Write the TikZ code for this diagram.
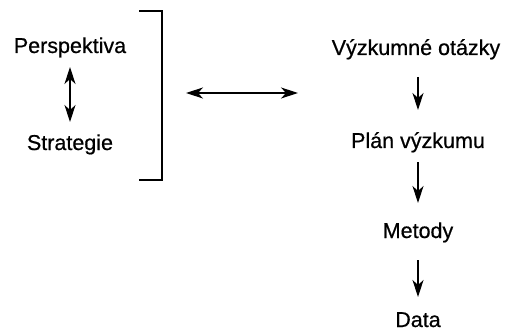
\documentclass[tikz,border=0pt]{standalone}
\usepackage{fontspec}
\setmainfont{Liberation Sans}
\newfontfamily\medsans{Liberation Sans}[FakeBold=0.6]
\usetikzlibrary{arrows.meta}
\begin{document}
\begin{tikzpicture}[x=1pt,y=-1pt,
  lbl/.style={inner sep=0pt, anchor=base, font=\medsans\fontsize{21.5}{24}\selectfont},
  tip/.tip={Stealth[length=17pt,width=11pt,inset=5pt]},
  arr/.style={line width=1.1pt, -tip},
  darr/.style={line width=1.1pt, tip-tip},
  brk/.style={line width=1.2pt}]
\useasboundingbox (0,0) rectangle (513,331);
% left column
\node[lbl] (persp) at (70,53) {Perspektiva};
\node[lbl] (strat) at (70,150) {Strategie};
\draw[darr, shorten <=14pt, shorten >=28pt] (persp.base) -- (strat.base);
% bracket
\coordinate (bt1) at (139,11);
\coordinate (bt2) at (162,11);
\coordinate (bb2) at (162,180);
\coordinate (bb1) at (139,180);
\draw[brk] (bt1) -- (bt2) -- (bb2) -- (bb1);
% horizontal double arrow
\coordinate (hl) at (186,93);
\coordinate (hr) at (298,93);
\draw[darr] (hl) -- (hr);
% right column
\node[lbl] (vo) at (416,55) {Výzkumné otázky};
\node[lbl] (pv) at (418,148) {Plán výzkumu};
\node[lbl] (me) at (418,238) {Metody};
\node[lbl] (da) at (418,327) {Data};
\draw[arr, shorten <=22pt, shorten >=38pt] (vo.base -| me.base) -- (pv.base);
\draw[arr, shorten <=14pt, shorten >=35pt] (pv.base) -- (me.base);
\draw[arr, shorten <=22pt, shorten >=30pt] (me.base) -- (da.base);
\end{tikzpicture}
\end{document}
